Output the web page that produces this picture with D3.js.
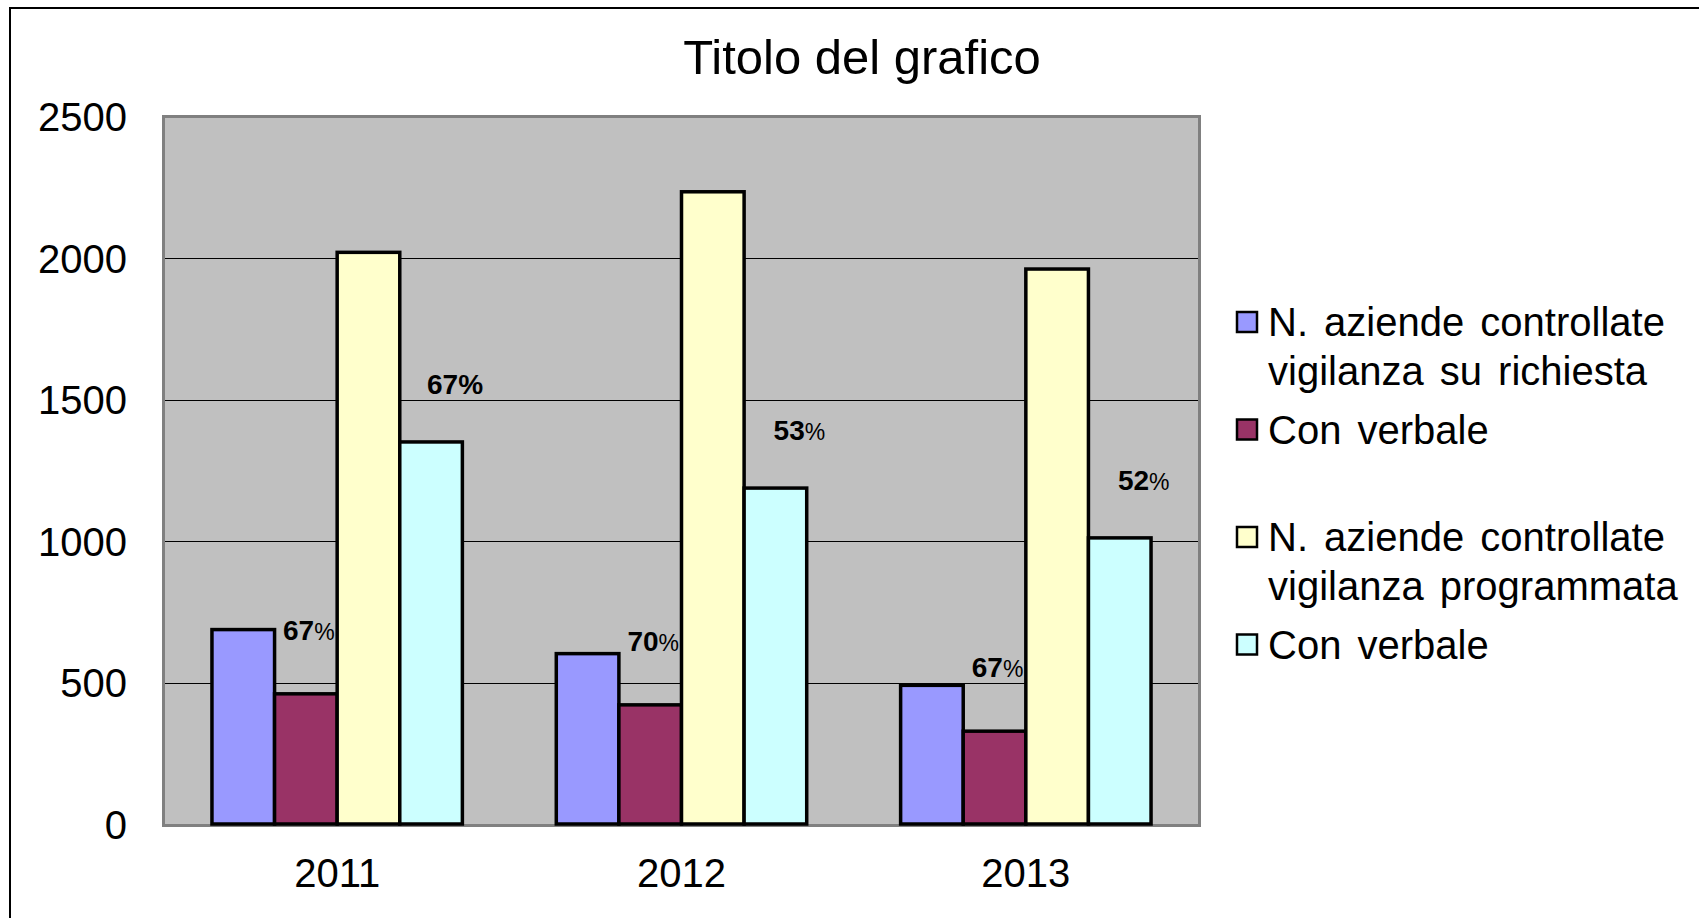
<!DOCTYPE html>
<html>
<head>
<meta charset="utf-8">
<script src="https://cdn.jsdelivr.net/npm/d3@7"></script>
<style>
    body { margin: 0; background: #fff; }
    text { font-family: Arial, "Liberation Sans", sans-serif; fill: #000; }
</style>
</head>
<body>
<script>
// data
var years = ["2011", "2012", "2013"];
var seriesKeys = ["richiesta", "richiestaVerbale", "programmata", "programmataVerbale"];
var seriesLabels = [
    ["N. aziende controllate", "vigilanza su richiesta"],
    ["Con verbale"],
    ["N. aziende controllate", "vigilanza programmata"],
    ["Con verbale"]
];
var seriesColors = ["#9999FF", "#993366", "#FFFFCC", "#CCFFFF"];
var richiesta = [687, 602, 490];
var richiestaVerbale = [460, 421, 328];
var programmata = [2020, 2234, 1961];
var programmataVerbale = [1350, 1187, 1011];
var yTicks = [0, 500, 1000, 1500, 2000, 2500];

window.onload = function(){
    var w = 1699, h = 918;
    var plot = {left: 165, right: 1198, top: 118, bottom: 824};   //inner plot area

    var svg = d3.select("body").append("svg")
        .attr("width", w)
        .attr("height", h);

    // outer chart border (runs off the right/bottom edge in the original)
    svg.append("rect")
        .attr("x", 10).attr("y", 8)
        .attr("width", 1800).attr("height", 1000)
        .style("fill", "none")
        .style("stroke", "#000")
        .style("stroke-width", 2);

    svg.append("text")
        .attr("x", 862).attr("y", 74)
        .attr("text-anchor", "middle")
        .style("font-size", "49px")
        .text("Titolo del grafico");

    var y = d3.scaleLinear()
        .domain([0, 2500])
        .range([plot.bottom, plot.top - 1.5]);

    var x0 = d3.scaleBand()
        .domain(years)
        .range([plot.left, plot.right])
        .paddingInner(1.5 / 5.5)
        .paddingOuter(0.75 / 5.5);

    var x1 = d3.scaleBand()
        .domain(seriesKeys)
        .range([0, x0.bandwidth()]);

    // plot background
    svg.append("rect")
        .attr("x", plot.left - 1.5).attr("y", plot.top - 1.5)
        .attr("width", plot.right - plot.left + 3)
        .attr("height", plot.bottom - plot.top + 3)
        .style("fill", "#C0C0C0")
        .style("stroke", "#808080")
        .style("stroke-width", 3);

    // gridlines
    svg.selectAll(".grid")
        .data(yTicks.filter(function(d){ return d > 0 && d < 2500; }))
        .enter()
        .append("line")
        .attr("class", "grid")
        .attr("x1", plot.left).attr("x2", plot.right)
        .attr("y1", function(d){ return Math.round(y(d)) + 0.5; })
        .attr("y2", function(d){ return Math.round(y(d)) + 0.5; })
        .style("stroke", "#000")
        .style("stroke-width", 1);

    var values = {
        richiesta: richiesta,
        richiestaVerbale: richiestaVerbale,
        programmata: programmata,
        programmataVerbale: programmataVerbale
    };

    var rows = years.map(function(yr, i){
        return seriesKeys.map(function(k, j){
            return {year: yr, key: k, value: values[k][i], color: seriesColors[j]};
        });
    });

    var groups = svg.selectAll(".year")
        .data(rows)
        .enter()
        .append("g")
        .attr("class", "year")
        .attr("transform", function(d, i){ return "translate(" + x0(years[i]) + ",0)"; });

    groups.selectAll("rect")
        .data(function(d){ return d; })
        .enter()
        .append("rect")
        .attr("x", function(d){ return x1(d.key); })
        .attr("y", function(d){ return y(d.value); })
        .attr("width", x1.bandwidth())
        .attr("height", function(d){ return y(0) - y(d.value); })
        .style("fill", function(d){ return d.color; })
        .style("stroke", "#000")
        .style("stroke-width", 3.5);

    // percentage labels (Con verbale / N. aziende)
    var pctData = [];
    years.forEach(function(yr, i){
        pctData.push({year: yr, key: "richiestaVerbale", value: richiestaVerbale[i],
            pct: Math.round(richiestaVerbale[i] / richiesta[i] * 100), dx: 3, dy: -64, boldSign: false});
        pctData.push({year: yr, key: "programmataVerbale", value: programmataVerbale[i],
            pct: Math.round(programmataVerbale[i] / programmata[i] * 100), dx: 24, dy: -58, boldSign: i == 0});
    });

    var pct = svg.selectAll(".pct")
        .data(pctData)
        .enter()
        .append("text")
        .attr("class", "pct")
        .attr("text-anchor", "middle")
        .attr("x", function(d){ return x0(d.year) + x1(d.key) + x1.bandwidth() / 2 + d.dx; })
        .attr("y", function(d){ return y(d.value) + d.dy + 10; });

    pct.append("tspan")
        .style("font-size", "28px")
        .style("font-weight", "bold")
        .text(function(d){ return d.pct; });

    pct.append("tspan")
        .style("font-size", function(d){ return d.boldSign ? "28px" : "23px"; })
        .style("font-weight", function(d){ return d.boldSign ? "bold" : "normal"; })
        .text("%");

    // y axis labels
    var yAxis = d3.axisLeft(y).tickValues(yTicks).tickFormat(d3.format("d")).tickSize(0).tickPadding(0);
    var ya = svg.append("g")
        .attr("transform", "translate(127,0)")
        .call(yAxis);
    ya.select(".domain").remove();
    ya.selectAll("text")
        .attr("dy", "0.36em")
        .style("font-size", "40px")
        .style("font-family", "Arial, 'Liberation Sans', sans-serif");

    // x axis labels
    var xAxis = d3.axisBottom(x0).tickSize(0).tickPadding(63);
    var xa = svg.append("g")
        .attr("transform", "translate(0," + plot.bottom + ")")
        .call(xAxis);
    xa.select(".domain").remove();
    xa.selectAll("text")
        .attr("dy", "0")
        .style("font-size", "40px")
        .style("font-family", "Arial, 'Liberation Sans', sans-serif");

    // legend
    var lineH = 48.5, entryGap = 10.5;
    var ly = 322, legendRows = [];
    seriesLabels.forEach(function(lines, i){
        legendRows.push({lines: lines, color: seriesColors[i], y: ly});
        ly += lines.length * lineH + entryGap;
        if (i == 1) ly += lineH;    //blank line between the two pairs
    });

    var legend = svg.selectAll(".legend")
        .data(legendRows)
        .enter()
        .append("g")
        .attr("class", "legend")
        .attr("transform", function(d){ return "translate(1237," + d.y + ")"; });

    legend.append("rect")
        .attr("x", 0).attr("y", -10)
        .attr("width", 20).attr("height", 20)
        .style("fill", function(d){ return d.color; })
        .style("stroke", "#000")
        .style("stroke-width", 2.5);

    legend.selectAll("text")
        .data(function(d){ return d.lines; })
        .enter()
        .append("text")
        .attr("x", 31)
        .attr("y", function(d, i){ return i * lineH; })
        .attr("dy", "0.36em")
        .style("font-size", "40px")
        .style("word-spacing", "5px")
        .text(function(d){ return d; });
};
</script>
</body>
</html>
